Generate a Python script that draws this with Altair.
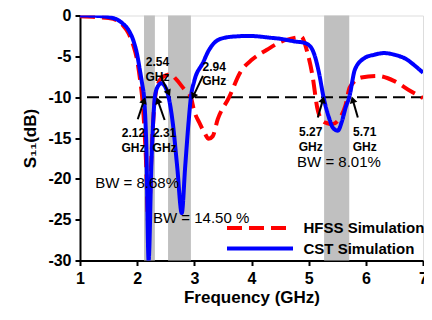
import math
import altair as alt
import pandas as pd

# ---- curve data (frequency GHz, S11 dB) ----
cst_f = [1.0, 1.3, 1.5, 1.65, 1.75, 1.85, 1.93, 2.0, 2.05, 2.09, 2.12, 2.16, 2.2, 2.25, 2.28, 2.31,
         2.36, 2.42, 2.48, 2.55, 2.62, 2.7, 2.78, 2.84, 2.9, 2.94, 3.0, 3.15, 3.25, 3.39, 3.55, 3.75,
         3.91, 4.1, 4.3, 4.5, 4.78, 4.9, 5.03, 5.1, 5.18, 5.26, 5.35, 5.43, 5.51, 5.58, 5.65, 5.71,
         5.81, 5.98, 6.15, 6.32, 6.5, 6.72, 6.85, 7.0]
cst_db = [0.0, -0.05, -0.2, -0.5, -1.0, -1.8, -3.0, -4.8, -6.8, -8.5, -10.0, -16.0, -30.0, -18.0, -13.0, -10.0,
          -8.7, -8.3, -8.6, -10.0, -13.0, -18.5, -24.2, -18.5, -13.0, -10.0, -8.0, -5.8, -4.3, -3.1, -2.7, -2.55,
          -2.5, -2.55, -2.7, -2.85, -3.2, -3.3, -3.8, -4.8, -7.0, -10.0, -12.4, -13.8, -14.1, -13.0, -11.2, -10.0,
          -6.6, -5.2, -4.8, -4.6, -4.8, -5.4, -6.1, -7.0]

hfss_f = [1.0, 1.3, 1.5, 1.65, 1.75, 1.85, 1.93, 2.0, 2.05, 2.1, 2.15, 2.2, 2.25, 2.3, 2.36, 2.45,
          2.58, 2.68, 2.82, 2.94, 2.99, 3.1, 3.18, 3.25, 3.32, 3.41, 3.61, 3.8, 4.01, 4.27, 4.52, 4.78,
          4.87, 4.98, 5.07, 5.15, 5.24, 5.33, 5.41, 5.52, 5.64, 5.72, 5.92, 6.2, 6.49, 6.78, 7.0]
hfss_db = [-0.1, -0.2, -0.3, -0.6, -1.2, -2.2, -3.6, -5.5, -7.8, -11.0, -17.0, -26.0, -17.0, -11.0, -8.5, -7.5,
           -7.2, -7.8, -9.0, -10.0, -11.5, -13.3, -14.4, -15.1, -14.8, -12.7, -10.0, -7.0, -5.4, -4.2, -3.2, -2.7,
           -2.6, -4.6, -7.5, -11.3, -12.9, -13.2, -13.3, -12.8, -11.1, -8.8, -7.6, -7.4, -8.0, -9.25, -10.1]

series_names = ["HFSS Simulation", "CST Simulation"]
series_colors = ["#ff0000", "#0000ff"]

# ---- bandwidth bands ----
band_lo = [2.12, 2.54, 5.27]
band_hi = [2.31, 2.94, 5.71]

# ---- annotation labels ----
lab_text = ["2.12\nGHz", "2.31\nGHz", "2.54\nGHz", "2.94\nGHz", "5.27\nGHz", "5.71\nGHz"]
lab_f = [1.934, 2.48, 2.354, 3.349, 5.037, 5.98]
lab_db = [-14.43, -14.43, -5.71, -6.26, -14.31, -14.31]

bw_text = ["BW = 8.68%", "BW = 14.50 %", "BW = 8.01%"]
bw_f = [1.266, 2.277, 4.797]
bw_db = [-20.47, -24.75, -17.98]

# ---- arrows: tail -> tip ----
arr_f0 = [2.01, 2.48, 2.41, 3.15, 5.16, 5.86]
arr_db0 = [-12.7, -12.8, -7.4, -7.4, -12.5, -12.5]
arr_f1 = [2.12, 2.36, 2.55, 2.98, 5.25, 5.77]
arr_db1 = [-10.4, -10.4, -9.5, -9.9, -10.3, -10.3]

W, H = 343, 245
XMIN, XMAX, YMIN, YMAX = 1, 7, -30, 0
sx = W / (XMAX - XMIN)
sy = H / (YMAX - YMIN)

FONT = "Liberation Sans"

curves = pd.concat([
    pd.DataFrame({"f": hfss_f, "db": hfss_db, "series": series_names[0], "order": range(len(hfss_f))}),
    pd.DataFrame({"f": cst_f, "db": cst_db, "series": series_names[1], "order": range(len(cst_f))}),
])
bands = pd.DataFrame({"lo": band_lo, "hi": band_hi})
labels = pd.DataFrame({"f": lab_f, "db": lab_db, "t": lab_text})
bws = pd.DataFrame({"f": bw_f, "db": bw_db, "t": bw_text})
angles = []
for a, b, c, d in zip(arr_f0, arr_db0, arr_f1, arr_db1):
    dx = (c - a) * sx
    dy = -(d - b) * sy
    angles.append(math.degrees(math.atan2(dx, -dy)) % 360)
arrows = pd.DataFrame({"f0": arr_f0, "db0": arr_db0, "f1": arr_f1, "db1": arr_db1, "ang": angles})
ref = pd.DataFrame({"db": [-10]})

xs = alt.Scale(domain=[XMIN, XMAX], nice=False, zero=False)
ys = alt.Scale(domain=[YMIN, YMAX], nice=False, zero=False)

xaxis = alt.Axis(values=[1, 2, 3, 4, 5, 6, 7], title="Frequency (GHz)", grid=False,
                 labelExpr="datum.value + ''",
                 labelFont=FONT, labelFontSize=16, labelFontWeight="bold", labelColor="black",
                 titleFont=FONT, titleFontSize=17, titleFontWeight="bold", titleColor="black",
                 domainColor="black", domainWidth=2, tickColor="black", tickWidth=2, tickSize=5,
                 labelPadding=5, titlePadding=3, labelFlush=False)
yaxis = alt.Axis(values=[0, -5, -10, -15, -20, -25, -30], title="S₁₁(dB)", grid=False,
                 labelExpr="datum.value + ''",
                 labelFont=FONT, labelFontSize=16, labelFontWeight="bold", labelColor="black",
                 titleFont=FONT, titleFontSize=17, titleFontWeight="bold", titleColor="black",
                 domainColor="black", domainWidth=2, tickColor="black", tickWidth=2, tickSize=5,
                 labelPadding=4, titlePadding=8)

band_layer = alt.Chart(bands).mark_rect(color="#c0c0c0").encode(
    x=alt.X("lo:Q", scale=xs, axis=xaxis), x2="hi:Q")

ref_layer = alt.Chart(ref).mark_rule(color="black", strokeWidth=2, strokeDash=[12, 6]).encode(
    y=alt.Y("db:Q", scale=ys, axis=yaxis))

legend = alt.Legend(title=None, orient="none", legendX=172.5, legendY=205, padding=0,
                    symbolType="M-11,0H11", symbolSize=36, symbolStrokeWidth=4,
                    labelFont=FONT, labelFontSize=15, labelFontWeight="bold", labelColor="black",
                    labelOffset=36, rowPadding=3.5, labelLimit=300)

line_layer = alt.Chart(curves).mark_line(strokeWidth=4, interpolate="monotone", clip=True).encode(
    x=alt.X("f:Q", scale=xs, axis=xaxis),
    y=alt.Y("db:Q", scale=ys, axis=yaxis),
    color=alt.Color("series:N", scale=alt.Scale(domain=series_names, range=series_colors), legend=legend),
    strokeDash=alt.StrokeDash("series:N", scale=alt.Scale(domain=series_names, range=[[15, 7], [1, 0]]),
                              legend=legend),
    order="order:Q",
    detail="series:N",
)

shaft_layer = alt.Chart(arrows).mark_rule(color="black", strokeWidth=2).encode(
    x="f0:Q", y="db0:Q", x2="f1:Q", y2="db1:Q")
head_layer = alt.Chart(arrows).mark_point(shape="triangle-up", filled=True, color="black",
                                          size=60, opacity=1).encode(
    x="f1:Q", y="db1:Q", angle=alt.Angle("ang:Q", scale=None))

label_layer = alt.Chart(labels).mark_text(font=FONT, fontSize=12, fontWeight="bold", color="black",
                                          lineBreak="\n", lineHeight=14.5, align="center",
                                          baseline="middle").encode(
    x="f:Q", y="db:Q", text="t:N")
bw_layer = alt.Chart(bws).mark_text(font=FONT, fontSize=15, color="black", align="left",
                                    baseline="middle").encode(
    x="f:Q", y="db:Q", text="t:N")

chart = alt.layer(band_layer, ref_layer, line_layer, shaft_layer, head_layer, label_layer, bw_layer).properties(
    width=W, height=H,
    autosize=alt.AutoSizeParams(type="none"),
    padding={"left": 72, "top": 7.5, "right": 1, "bottom": 46},
).configure_view(stroke="black", strokeWidth=2).configure(background="white")

chart.save("out.html", embed_options={"renderer": "svg", "actions": False})
